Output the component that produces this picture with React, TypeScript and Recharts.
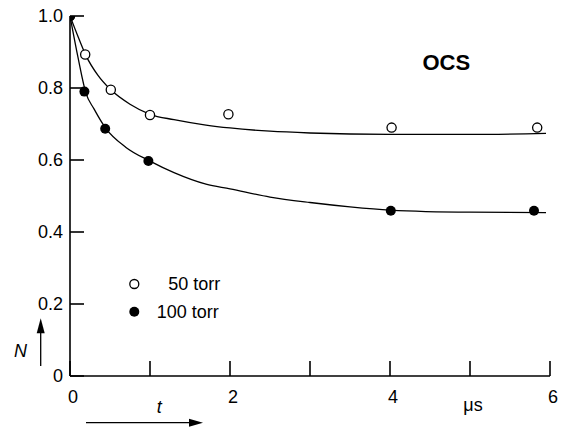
import {
  ComposedChart,
  Line,
  Scatter,
  XAxis,
  YAxis,
} from "recharts";

// measured points, 50 torr (open circles)
const p50T = [0, 0.19, 0.51, 1.0, 1.98, 4.02, 5.84];
const p50N = [1.0, 0.893, 0.795, 0.725, 0.727, 0.69, 0.69];

// measured points, 100 torr (filled circles)
const p100T = [0, 0.18, 0.44, 0.98, 4.01, 5.8];
const p100N = [1.0, 0.79, 0.687, 0.597, 0.459, 0.459];

// fitted curves
const fit50T = [0, 0.1, 0.2, 0.35, 0.5, 0.75, 1.0, 1.3, 1.7, 2.0, 2.5, 3.0, 4.0, 5.0, 5.95];
const fit50N = [1.0, 0.943, 0.89, 0.835, 0.797, 0.755, 0.727, 0.712, 0.697, 0.689, 0.68, 0.675, 0.671, 0.671, 0.674];

const fit100T = [0, 0.1, 0.2, 0.3, 0.45, 0.7, 1.0, 1.3, 1.7, 2.0, 2.5, 3.0, 3.5, 4.0, 5.0, 5.95];
const fit100N = [1.0, 0.885, 0.785, 0.742, 0.687, 0.635, 0.597, 0.565, 0.533, 0.52, 0.497, 0.482, 0.47, 0.461, 0.455, 0.454];

const xTicks = [0, 1, 2, 3, 4, 5, 6];
const yTicks = [0, 0.2, 0.4, 0.6, 0.8, 1.0];

const zip = (ts: number[], ns: number[]) => ts.map((t, i) => ({ t, N: ns[i] }));

const pts50 = zip(p50T, p50N);
const pts100 = zip(p100T, p100N);
const fit50 = zip(fit50T, fit50N);
const fit100 = zip(fit100T, fit100N);

const FONT = '"Liberation Sans", Arial, sans-serif';
const tickStyle = { fill: "#000", fontSize: 18, fontFamily: FONT };

const OpenDot = (p: any) => (
  <circle cx={p.cx} cy={p.cy} r={4.6} fill="#fff" stroke="#000" strokeWidth={1.3} />
);
const FilledDot = (p: any) => <circle cx={p.cx} cy={p.cy} r={5} fill="#000" />;

export default function App() {
  return (
    <div
      style={{
        position: "absolute",
        left: 0,
        top: 0,
        width: 571,
        height: 427,
        background: "#fff",
        fontFamily: FONT,
      }}>
      <ComposedChart
        width={571}
        height={427}
        margin={{ top: 16, right: 21, bottom: 0, left: 0 }}>
        <XAxis
          xAxisId="b"
          type="number"
          dataKey="t"
          domain={[0, 6]}
          ticks={xTicks}
          allowDataOverflow
          tickFormatter={(v: number) => (v % 2 === 0 ? String(v) : "")}
          tickSize={-15}
          tickMargin={29}
          height={51}
          stroke="#000"
          strokeWidth={1.6}
          tick={{ ...tickStyle, dx: 3 }}
        />
        <XAxis
          xAxisId="top"
          orientation="top"
          type="number"
          domain={[0, 6]}
          ticks={xTicks}
          allowDataOverflow
          tickFormatter={() => ""}
          tickSize={-15}
          height={0}
          stroke="#000"
          strokeWidth={1.6}
        />
        <YAxis
          yAxisId="l"
          type="number"
          dataKey="N"
          domain={[0, 1]}
          ticks={yTicks}
          allowDataOverflow
          tickFormatter={(v: number) => (v === 0 ? "0" : v.toFixed(1))}
          tickSize={-14}
          tickMargin={21}
          width={70}
          stroke="#000"
          strokeWidth={1.6}
          tick={tickStyle}
        />
        <YAxis
          yAxisId="r"
          orientation="right"
          type="number"
          domain={[0, 1]}
          ticks={yTicks}
          allowDataOverflow
          tickFormatter={() => ""}
          tickSize={-14}
          width={0}
          stroke="#000"
          strokeWidth={1.6}
        />
        <Line
          xAxisId="b"
          yAxisId="l"
          data={fit50}
          dataKey="N"
          type="monotone"
          stroke="#000"
          strokeWidth={1.3}
          dot={false}
          isAnimationActive={false}
        />
        <Line
          xAxisId="b"
          yAxisId="l"
          data={fit100}
          dataKey="N"
          type="monotone"
          stroke="#000"
          strokeWidth={1.3}
          dot={false}
          isAnimationActive={false}
        />
        <Scatter
          xAxisId="b"
          yAxisId="l"
          data={pts50}
          dataKey="N"
          shape={OpenDot}
          isAnimationActive={false}
        />
        <Scatter
          xAxisId="b"
          yAxisId="l"
          data={pts100}
          dataKey="N"
          shape={FilledDot}
          isAnimationActive={false}
        />
      </ComposedChart>
      <svg
        width={571}
        height={427}
        style={{ position: "absolute", left: 0, top: 0, pointerEvents: "none" }}>
        <text x={422.5} y={69.5} fontSize={22} fontWeight="bold" fontFamily={FONT}>
          OCS
        </text>
        {/* legend */}
        <circle cx={134.3} cy={284} r={4.5} fill="#fff" stroke="#000" strokeWidth={1.3} />
        <text x={168.3} y={290.4} fontSize={18} fontFamily={FONT}>
          50 torr
        </text>
        <circle cx={134.3} cy={311.7} r={5} fill="#000" />
        <text x={156.7} y={318.1} fontSize={18} fontFamily={FONT}>
          100 torr
        </text>
        {/* N axis label with arrow */}
        <text x={14} y={356.7} fontSize={18} fontStyle="italic" fontFamily={FONT}>
          N
        </text>
        <line x1={40.7} y1={366} x2={40.7} y2={330} stroke="#000" strokeWidth={1.3} />
        <polygon points="40.7,318.3 36.7,333.3 44.7,333.3" fill="#000" />
        {/* t axis label with arrow */}
        <text x={159.3} y={413} fontSize={18} fontStyle="italic" textAnchor="middle" fontFamily={FONT}>
          t
        </text>
        <line x1={86} y1={422.7} x2={192} y2={422.7} stroke="#000" strokeWidth={1.3} />
        <polygon points="203,422.7 189,418.7 189,426.7" fill="#000" />
        <text x={473} y={410.7} fontSize={18} textAnchor="middle" fontFamily={FONT}>
          μs
        </text>
      </svg>
    </div>
  );
}
